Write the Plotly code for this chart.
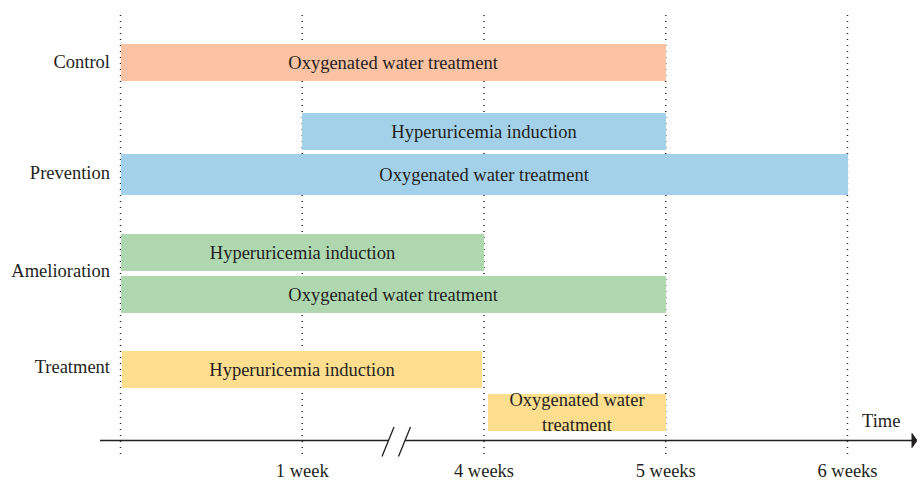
import plotly.graph_objects as go

# ---------------- data ----------------
GROUPS = ["Control", "Prevention", "Amelioration", "Treatment"]
TICK_POS = [1, 2, 3, 4]
TICK_LABELS = ["1 week", "4 weeks", "5 weeks", "6 weeks"]

BAR_GROUP = ["Control", "Prevention", "Prevention", "Amelioration",
             "Amelioration", "Treatment", "Treatment"]
BAR_LABEL = ["Oxygenated water treatment", "Hyperuricemia induction",
             "Oxygenated water treatment", "Hyperuricemia induction",
             "Oxygenated water treatment", "Hyperuricemia induction",
             "Oxygenated water<br>treatment"]
BAR_START = [0, 1, 0, 0, 0, 0.01, 2.02]
BAR_END = [3, 3, 4, 2, 3, 1.99, 3]

# ---------------- style / layout ----------------
GROUP_COLOR = {"Control": "#FBC3A3", "Prevention": "#A4D1EA",
               "Amelioration": "#AFD8B1", "Treatment": "#FDDE8F"}
TEXT = "#231F20"
FONT = "Liberation Serif"
FS = 18.5

# vertical lanes (pixel-like units, y axis reversed)
LANE_CENTER = [62.5, 131.5, 174.5, 252.5, 294.5, 369.5, 412.5]
LANE_HEIGHT = [37, 37, 41, 37, 37, 37, 37]
GROUP_Y = [62, 173, 271, 367]
AXIS_Y = 440.5

W_FIG, H_FIG = 917, 480
L, B = 115, 23
PLOT_W = W_FIG - L
PLOT_H = H_FIG - B
SCALE = 181.75          # px per time unit
ZERO_PX = 120.5
X0 = -(ZERO_PX - L) / SCALE
X1 = X0 + PLOT_W / SCALE


def px2x(px):
    return (px - ZERO_PX) / SCALE


def px2paper(px):
    return (px - L) / PLOT_W


fig = go.Figure()
fig.add_trace(go.Bar(
    orientation="h",
    base=BAR_START,
    x=[e - s for s, e in zip(BAR_START, BAR_END)],
    y=LANE_CENTER,
    width=LANE_HEIGHT,
    marker=dict(color=[GROUP_COLOR[g] for g in BAR_GROUP], line=dict(width=0)),
    text=BAR_LABEL,
    textposition="inside",
    insidetextanchor="middle",
    constraintext="none",
    textfont=dict(family=FONT, size=FS, color=TEXT),
    hoverinfo="skip",
    showlegend=False,
))

shapes = []
# dotted vertical guide lines
for v in [0] + TICK_POS:
    shapes.append(dict(type="line", xref="x", yref="y", x0=v, x1=v, y0=15, y1=455,
                       line=dict(color=TEXT, width=1.4, dash="1px,5px"), layer="below"))
# time axis with break
shapes.append(dict(type="line", xref="paper", yref="y", x0=px2paper(100), x1=px2paper(389),
                   y0=AXIS_Y, y1=AXIS_Y, line=dict(color=TEXT, width=1.5)))
shapes.append(dict(type="line", xref="x", yref="y", x0=px2x(405), x1=px2x(913),
                   y0=AXIS_Y, y1=AXIS_Y, line=dict(color=TEXT, width=1.5)))
for bpx in (382, 398.5):
    shapes.append(dict(type="line", xref="x", yref="y", x0=px2x(bpx), x1=px2x(bpx + 12),
                       y0=456.5, y1=427, line=dict(color=TEXT, width=1.3)))
# arrow head
shapes.append(dict(type="path", xref="x", yref="y",
                   path=f"M {px2x(912)} {AXIS_Y-7} L {px2x(917)} {AXIS_Y} L {px2x(912)} {AXIS_Y+7} Z",
                   fillcolor=TEXT, line=dict(color=TEXT, width=1)))

annotations = [dict(x=px2x(881), y=421, xref="x", yref="y", text="Time", showarrow=False,
                    font=dict(family=FONT, size=FS, color=TEXT))]

fig.update_layout(
    width=W_FIG, height=H_FIG,
    margin=dict(l=L, r=0, t=0, b=B, autoexpand=False),
    paper_bgcolor="white", plot_bgcolor="white",
    shapes=shapes, annotations=annotations,
    bargap=0,
    xaxis=dict(range=[X0, X1], tickvals=TICK_POS, ticktext=TICK_LABELS,
               showgrid=False, zeroline=False, showline=False, ticks="",
               tickfont=dict(family=FONT, size=FS, color=TEXT), fixedrange=True),
    yaxis=dict(range=[PLOT_H, 0], tickvals=GROUP_Y, ticktext=GROUPS,
               showgrid=False, zeroline=False, showline=False, ticks="",
               ticklabelstandoff=4,
               tickfont=dict(family=FONT, size=FS, color=TEXT), fixedrange=True),
)

fig.write_html("out.html", config={"displayModeBar": False},
               post_script="document.body.style.margin='0px';document.body.style.overflow='hidden';")
